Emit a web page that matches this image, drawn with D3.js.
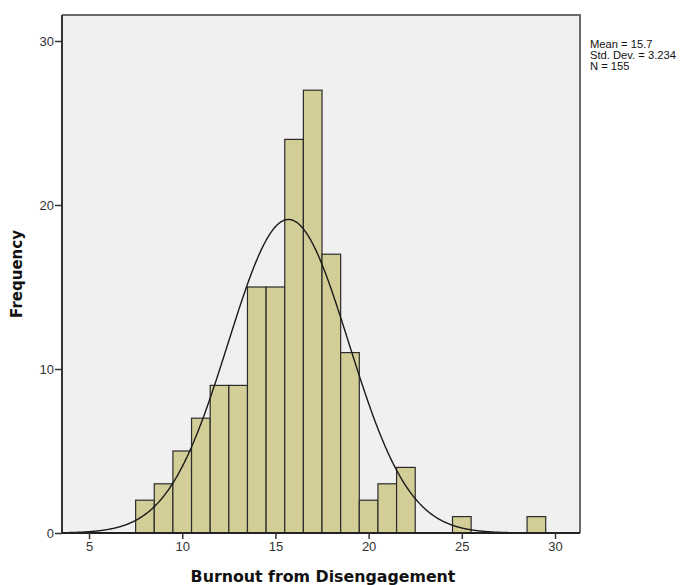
<!DOCTYPE html>
<html>
<head>
<meta charset="utf-8">
<script src="https://cdn.jsdelivr.net/npm/d3@7"></script>
<style>
  html, body { margin: 0; padding: 0; background: #fff; }
  svg { display: block; font-family: Arial, "Liberation Sans", sans-serif; }
</style>
</head>
<body>
<svg id="chart" width="695" height="585"></svg>
<script>
// Histogram bins (bin centres, width 1) and counts
const binCenters = [8, 9, 10, 11, 12, 13, 14, 15, 16, 17, 18, 19, 20, 21, 22, 25, 29];
const binCounts  = [2, 3, 5, 7, 9, 9, 15, 15, 24, 27, 17, 11, 2, 3, 4, 1, 1];
const xTicks = [5, 10, 15, 20, 25, 30];
const yTicks = [0, 10, 20, 30];
const statsLines = ["Mean = 15.7", "Std. Dev. = 3.234", "N = 155"];
const mean = 15.7, sd = 3.234, n = 155, binWidth = 1;

const svg = d3.select("#chart");
const plotL = 62, plotR = 580, plotT = 15, plotB = 533;
const tickFont = "Arial, 'Liberation Sans', sans-serif";
const titleFont = "'DejaVu Sans', Verdana, sans-serif";

const x = d3.scaleLinear().domain([3.55, 31.34]).range([plotL, plotR]);
const y = d3.scaleLinear().domain([0, 30]).range([plotB, 41]);

// plot background
svg.append("rect")
  .attr("x", plotL).attr("y", plotT)
  .attr("width", plotR - plotL).attr("height", plotB - plotT)
  .attr("fill", "#f0f0f0");

// bars
svg.append("g").selectAll("rect")
  .data(binCenters.map((c, i) => ({ c, v: binCounts[i] })))
  .join("rect")
  .attr("x", d => x(d.c - binWidth / 2))
  .attr("y", d => y(d.v))
  .attr("width", d => x(d.c + binWidth / 2) - x(d.c - binWidth / 2))
  .attr("height", d => y(0) - y(d.v))
  .attr("fill", "#d3ce97")
  .attr("stroke", "#2b2b2b")
  .attr("stroke-width", 1.2);

// normal curve scaled to counts
const pdf = v => n * binWidth / (sd * Math.sqrt(2 * Math.PI)) * Math.exp(-0.5 * ((v - mean) / sd) ** 2);
const curvePts = d3.range(3.55, 28.0, 0.05).map(v => [v, pdf(v)]);
svg.append("path")
  .datum(curvePts)
  .attr("fill", "none")
  .attr("stroke", "#1a1a1a")
  .attr("stroke-width", 1.4)
  .attr("d", d3.line().x(d => x(d[0])).y(d => y(d[1])).curve(d3.curveBasis));

// frame: top and right
svg.append("path")
  .attr("d", `M${plotL},${plotT}H${plotR}V${plotB}`)
  .attr("fill", "none").attr("stroke", "#6a6a6a").attr("stroke-width", 2);

// y axis
const yAxis = svg.append("g").attr("transform", `translate(${plotL},0)`)
  .call(d3.axisLeft(y).tickValues(yTicks).tickSize(7).tickPadding(1));
yAxis.select(".domain").attr("d", `M0,${plotT}V${plotB}`).attr("stroke", "#333").attr("stroke-width", 2);
yAxis.selectAll(".tick line").attr("stroke", "#333").attr("stroke-width", 1.5);
yAxis.selectAll(".tick text").attr("font-size", 13).attr("fill", "#333")
  .attr("font-family", tickFont);

// x axis
const xAxis = svg.append("g").attr("transform", `translate(0,${plotB})`)
  .call(d3.axisBottom(x).tickValues(xTicks).tickSize(6).tickPadding(3));
xAxis.select(".domain").attr("d", `M${plotL},0H${plotR}`).attr("stroke", "#222").attr("stroke-width", 2);
xAxis.selectAll(".tick line").attr("stroke", "#333").attr("stroke-width", 1.5);
xAxis.selectAll(".tick text").attr("font-size", 13).attr("fill", "#333")
  .attr("font-family", tickFont);

// axis titles
svg.append("text")
  .attr("x", 323).attr("y", 582)
  .attr("text-anchor", "middle")
  .attr("font-family", titleFont)
  .attr("font-size", 15.8).attr("font-weight", "bold").attr("fill", "#111")
  .text("Burnout from Disengagement");

svg.append("text")
  .attr("transform", `translate(22,274) rotate(-90)`)
  .attr("text-anchor", "middle")
  .attr("font-family", titleFont)
  .attr("font-size", 15).attr("font-weight", "bold").attr("fill", "#111")
  .text("Frequency");

// summary statistics
svg.append("g").selectAll("text")
  .data(statsLines)
  .join("text")
  .attr("x", 590)
  .attr("y", (d, i) => 48 + i * 11)
  .attr("font-size", 11.2).attr("fill", "#111")
  .text(d => d);
</script>
</body>
</html>
